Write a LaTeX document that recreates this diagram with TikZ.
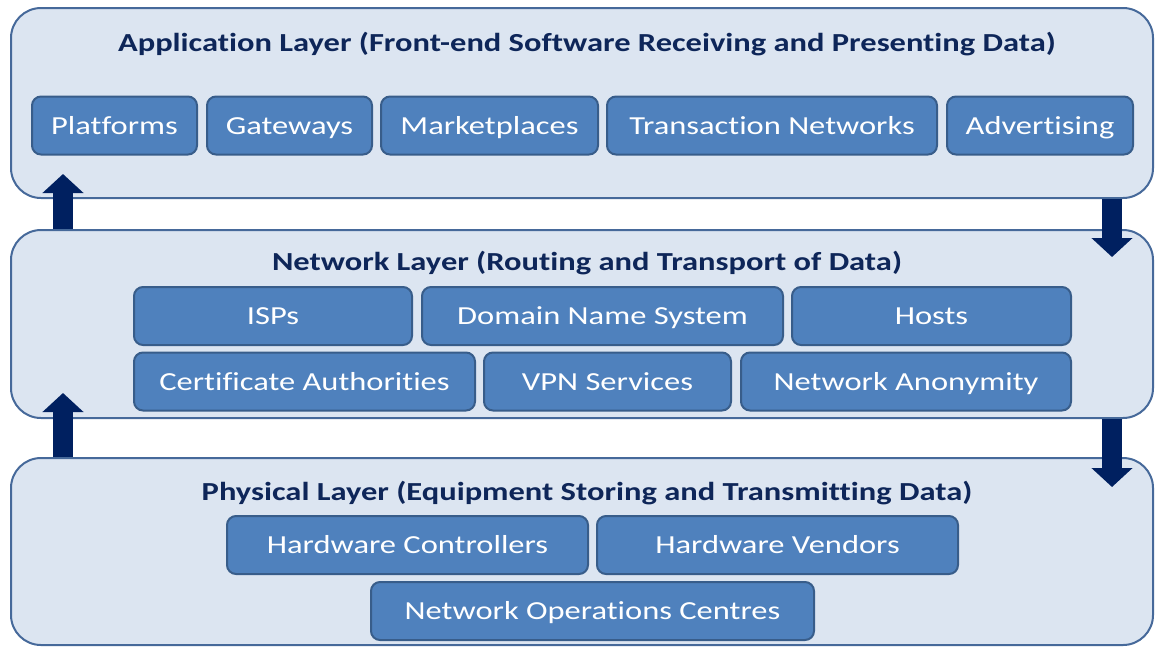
\documentclass[tikz,border=0pt]{standalone}
\usepackage{fontspec}
\setmainfont{Carlito}[FakeStretch=1.25, Ligatures=NoCommon]
\usepackage{tikz}
\usetikzlibrary{shapes,arrows.meta,positioning,calc}
\usepackage{xcolor}
\definecolor{layerfill}{HTML}{DCE5F1}
\definecolor{layerdraw}{HTML}{46699A}
\definecolor{itemfill}{HTML}{4F81BD}
\definecolor{itemdraw}{HTML}{385D8A}
\definecolor{navy}{HTML}{0E2659}
\definecolor{arrowcol}{HTML}{002060}
\tikzstyle{layer} = [rectangle, rounded corners=30pt, minimum width=1142pt, draw=layerdraw, line width=2pt, fill=layerfill]
\tikzstyle{item} = [rectangle, rounded corners=9pt, minimum height=58pt, inner sep=0pt, text height=17pt, text depth=0pt, text centered, draw=itemdraw, line width=2pt, fill=itemfill, text=white, font=\fontsize{26}{26}\selectfont]
\tikzstyle{title} = [text=navy, font=\fontsize{26}{26}\selectfont\bfseries, inner sep=0pt, anchor=base]
\tikzstyle{blockarrow} = [draw=arrowcol, line width=20pt, -{Triangle[width=40pt,length=19pt]}]

\begin{document}
\begin{tikzpicture}[x=1pt, y=-1pt]
    \useasboundingbox (0,0) rectangle (1155,646);
    % Layers
    \node (app) [layer, minimum height=190pt] at (582,103) {};
    \node (net) [layer, minimum height=188pt] at (582,324) {};
    \node (phys) [layer, minimum height=187pt] at (582,551.5) {};
    \node (apptitle) [title] at (587,51.7) {Application Layer (Front-end Software Receiving and Presenting Data)};
    \node (nettitle) [title] at (587,270.3) {Network Layer (Routing and Transport of Data)};
    \node (phystitle) [title] at (587,500) {Physical Layer (Equipment Storing and Transmitting Data)};

    % Application items
    \node (platforms) [item, minimum width=165pt] at (114.5,125.5) {Platforms};
    \node (gateways) [item, minimum width=165pt] at (289.5,125.5) {Gateways};
    \node (markets) [item, minimum width=217pt] at (489.5,125.5) {Marketplaces};
    \node (transnet) [item, minimum width=330pt] at (772,125.5) {Transaction Networks};
    \node (advert) [item, minimum width=186pt] at (1040,125.5) {Advertising};

    % Network items
    \node (isps) [item, minimum width=278pt] at (273,316) {ISPs};
    \node (dns) [item, minimum width=361pt] at (602.5,316) {Domain Name System};
    \node (hosts) [item, minimum width=279pt] at (931.5,316) {Hosts};
    \node (certauth) [item, minimum width=341pt] at (304.5,381.5) {Certificate Authorities};
    \node (vpn) [item, minimum width=247pt] at (607.5,381.5) {VPN Services};
    \node (anon) [item, minimum width=330pt] at (906,381.5) {Network Anonymity};

    % Physical items
    \node (hwctrl) [item, minimum width=361pt] at (407.5,545) {Hardware Controllers};
    \node (hwvend) [item, minimum width=361pt] at (777.5,545) {Hardware Vendors};
    \node (noc) [item, minimum width=443pt] at (592.5,611) {Network Operations Centres};

    % Arrows
    \draw [blockarrow, shorten >=-25pt] (net.north -| 63,0) -- (app.south -| 63,0);
    \draw [blockarrow, shorten >=-28pt] (app.south -| 1112,0) -- (net.north -| 1112,0);
    \draw [blockarrow, shorten >=-26pt] (phys.north -| 63,0) -- (net.south -| 63,0);
    \draw [blockarrow, shorten >=-30pt] (net.south -| 1112,0) -- (phys.north -| 1112,0);
\end{tikzpicture}
\end{document}
